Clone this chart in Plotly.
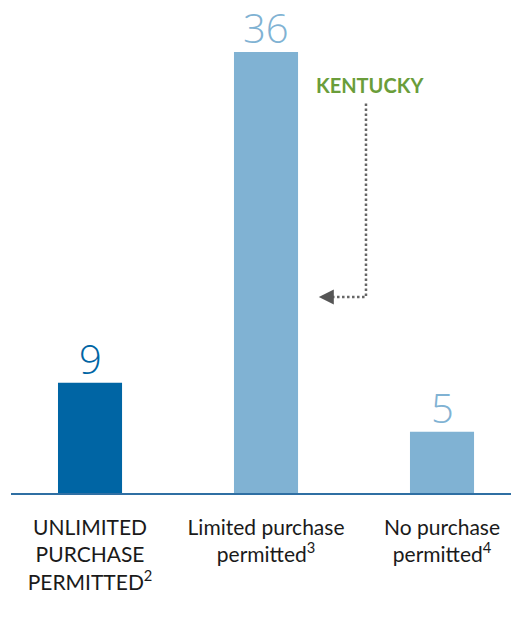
import plotly.graph_objects as go

# Categories and counts
categories = [
    "UNLIMITED<br>PURCHASE<br>PERMITTED<sup>2</sup>",
    "Limited purchase<br>permitted<sup>3</sup>",
    "No purchase<br>permitted<sup>4</sup>",
]
counts = [9, 36, 5]
bar_colors = ["#0065a4", "#80b2d3", "#80b2d3"]
label_colors = ["#0065a4", "#80b2d3", "#80b2d3"]

VALUE_FONT = "Open Sans"
TEXT_FONT = "Lato"
PX_PER_UNIT = 12.25
positions = list(range(len(counts)))

fig = go.Figure(
    go.Bar(
        x=positions,
        y=counts,
        marker=dict(color=bar_colors, line=dict(width=0)),
        width=0.364,
        hoverinfo="skip",
    )
)

# Value labels sitting just above each bar
for pos, val, col in zip(positions, counts, label_colors):
    fig.add_annotation(
        x=pos, y=val, xref="x", yref="y",
        text=str(val), showarrow=False,
        yanchor="bottom", yshift=-5,
        font=dict(family=VALUE_FONT, size=40, color=col, weight=300),
    )

# Callout: KENTUCKY falls under the limited-purchase group
callout_x = 1.568
callout_top = 31.8
callout_bottom = 16.0
arrow_tip_x = 1.30

fig.add_shape(
    type="path",
    path=f"M {callout_x} {callout_top} L {callout_x} {callout_bottom} L {arrow_tip_x + 0.08} {callout_bottom}",
    line=dict(color="#666666", width=2.5, dash="2.5px,2.5px"),
    xref="x", yref="y",
)
fig.add_annotation(
    x=arrow_tip_x, y=callout_bottom, xref="x", yref="y",
    ax=14, ay=0, axref="pixel", ayref="pixel",
    text="", showarrow=True, arrowhead=2, arrowsize=1.2,
    arrowwidth=2.5, arrowcolor="#555555",
)
fig.add_annotation(
    x=1.588, y=33.3, xref="x", yref="y",
    text="<b>KENTUCKY</b>", showarrow=False,
    font=dict(family=TEXT_FONT, size=20, color="#6a9d3a"),
)

fig.update_layout(
    width=511, height=637,
    margin=dict(l=11, r=0, t=30, b=144),
    paper_bgcolor="white", plot_bgcolor="white",
    showlegend=False,
    xaxis=dict(
        range=[-0.449, 2.392],
        tickmode="array", tickvals=positions, ticktext=categories,
        showline=True, linecolor="#2f6fa3", linewidth=1.5,
        showgrid=False, zeroline=False,
        ticks="outside", ticklen=15, tickcolor="rgba(0,0,0,0)",
        tickfont=dict(family=TEXT_FONT, size=21, color="#1a1a1a"),
        fixedrange=True,
    ),
    yaxis=dict(
        range=[0, 463 / PX_PER_UNIT],
        visible=False, showgrid=False, zeroline=False,
        fixedrange=True,
    ),
)

fig.write_html("out.html")
